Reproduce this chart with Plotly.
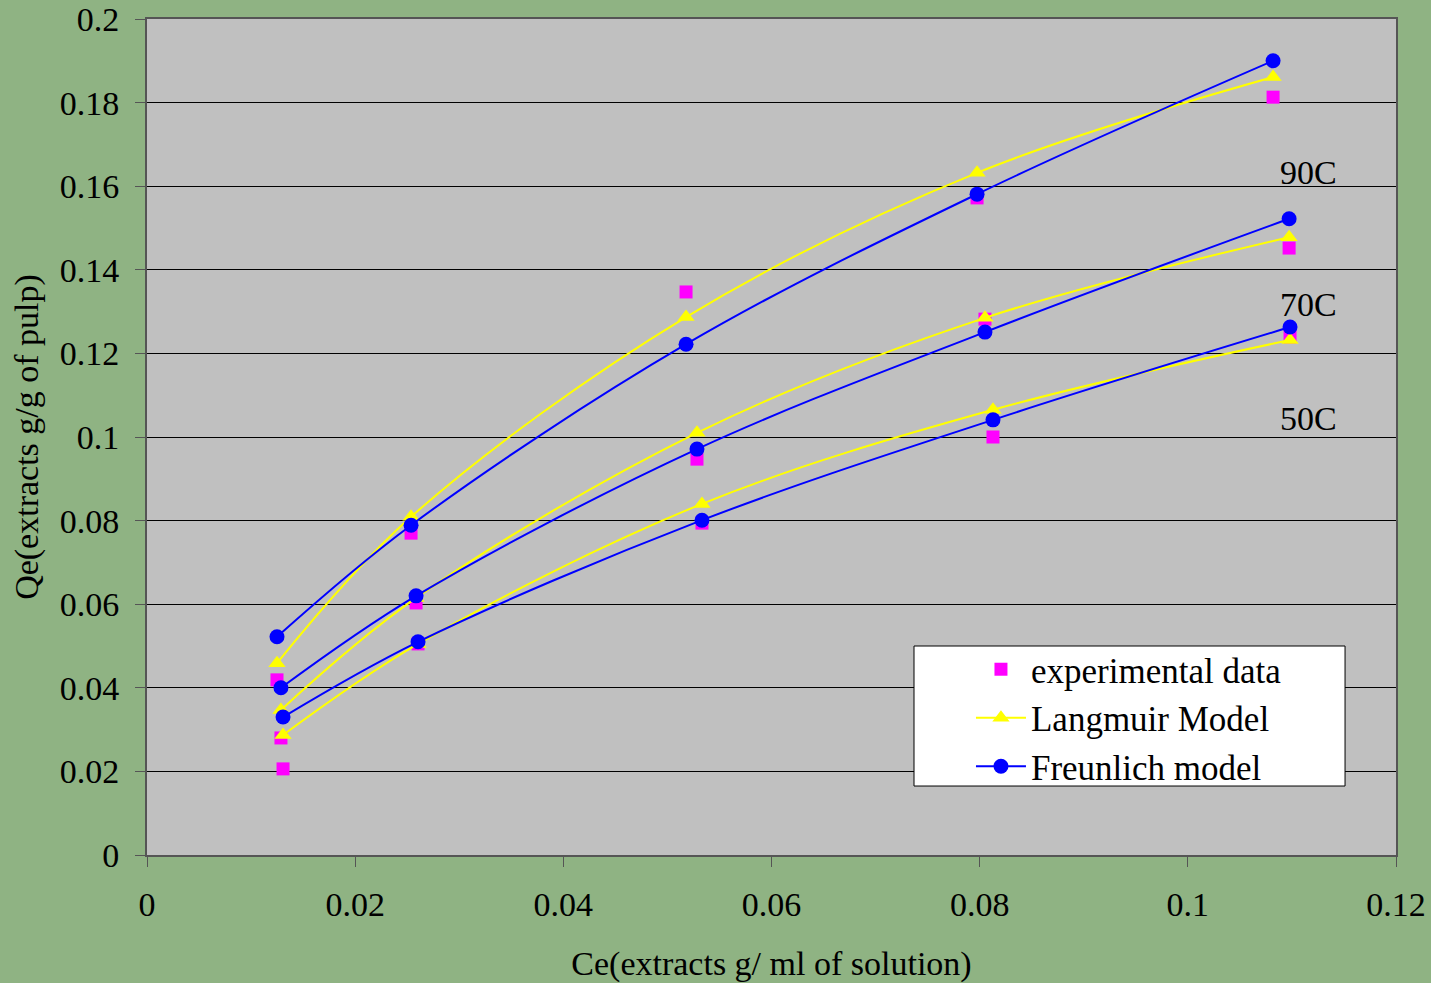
import plotly.graph_objects as go

# Data
x90 = [0.01249, 0.02537, 0.05179, 0.07975, 0.10819]
x70 = [0.01287, 0.02585, 0.05284, 0.08051, 0.10973]
x50 = [0.01307, 0.02604, 0.05332, 0.08128, 0.10982]

exp90 = [0.0419, 0.0770, 0.1347, 0.1572, 0.1813]
lang90 = [0.0459, 0.0809, 0.1287, 0.1632, 0.1861]
freu90 = [0.0522, 0.0789, 0.1222, 0.1581, 0.1900]

exp70 = [0.0280, 0.0603, 0.0947, 0.1282, 0.1452]
lang70 = [0.0347, 0.0615, 0.1010, 0.1285, 0.1478]
freu70 = [0.0400, 0.0620, 0.0971, 0.1251, 0.1522]

exp50 = [0.0206, 0.0505, 0.0794, 0.1000, 0.1239]
lang50 = [0.0287, 0.0505, 0.0840, 0.1065, 0.1232]
freu50 = [0.0330, 0.0510, 0.0801, 0.1041, 0.1263]

x_tickvals = [0, 0.02, 0.04, 0.06, 0.08, 0.1, 0.12]
x_ticktext = ["0", "0.02", "0.04", "0.06", "0.08", "0.1", "0.12"]
y_tickvals = [0, 0.02, 0.04, 0.06, 0.08, 0.1, 0.12, 0.14, 0.16, 0.18, 0.2]
y_ticktext = ["0", "0.02", "0.04", "0.06", "0.08", "0.1", "0.12", "0.14", "0.16", "0.18", "0.2"]

labels = ["90C", "70C", "50C"]
label_x = [0.1116, 0.1116, 0.1116]
label_y = [0.1632, 0.1316, 0.1045]

FONT = "Liberation Serif, Times New Roman, serif"
FS = 34
LFS = 35

fig = go.Figure()
sets = [(x90, exp90, lang90, freu90), (x70, exp70, lang70, freu70), (x50, exp50, lang50, freu50)]
for i, (xs, e, l, f) in enumerate(sets):
    fig.add_trace(go.Scatter(x=xs, y=e, mode="markers", name="experimental data",
                             legendgroup="exp", showlegend=(i == 0),
                             marker=dict(symbol="square", size=13, color="#FF00FF")))
for i, (xs, e, l, f) in enumerate(sets):
    fig.add_trace(go.Scatter(x=xs, y=l, mode="lines+markers", name="Langmuir Model",
                             legendgroup="lang", showlegend=(i == 0),
                             line=dict(color="#FFFF00", width=2, shape="spline", smoothing=1),
                             marker=dict(symbol="triangle-up", size=15, color="#FFFF00")))
for i, (xs, e, l, f) in enumerate(sets):
    fig.add_trace(go.Scatter(x=xs, y=f, mode="lines+markers", name="Freunlich model",
                             legendgroup="freu", showlegend=(i == 0),
                             line=dict(color="#0000FF", width=2, shape="spline", smoothing=1),
                             marker=dict(symbol="circle", size=15, color="#0000FF")))

for t, ax, ay in zip(labels, label_x, label_y):
    fig.add_annotation(x=ax, y=ay, text=t, showarrow=False, xanchor="center", yanchor="middle",
                       font=dict(family=FONT, size=FS, color="black"))

# legend frame
fig.add_shape(type="rect", xref="paper", yref="paper",
              x0=0.6141, x1=0.9592, y0=0.0825, y1=0.25,
              fillcolor="white", line=dict(color="black", width=1), layer="above")

fig.update_layout(
    width=1431, height=983,
    margin=dict(l=147, r=35, t=19, b=128),
    paper_bgcolor="#8FB383",
    plot_bgcolor="#C0C0C0",
    font=dict(family=FONT, size=FS, color="black"),
    legend=dict(x=0.6597, y=0.2572, xanchor="left", yanchor="top",
                bgcolor="rgba(0,0,0,0)", borderwidth=0,
                font=dict(family=FONT, size=LFS), tracegroupgap=0, itemwidth=50),
    xaxis=dict(range=[0, 0.12], tickvals=x_tickvals, ticktext=x_ticktext,
               showgrid=False, zeroline=False, automargin=False,
               showline=True, linecolor="#555555", linewidth=2, mirror=True,
               ticks="outside", ticklen=10, tickcolor="#555555", ticklabelstandoff=8,
               title=dict(text="Ce(extracts g/ ml of solution)", standoff=30,
                          font=dict(family=FONT, size=FS))),
    yaxis=dict(range=[0, 0.2], tickvals=y_tickvals, ticktext=y_ticktext,
               showgrid=True, gridcolor="black", gridwidth=1, automargin=False,
               zeroline=False, showline=True, linecolor="#555555", linewidth=2, mirror=True,
               ticks="outside", ticklen=10, tickcolor="#555555", ticklabelstandoff=9,
               title=dict(text="Qe(extracts g/g of pulp)", standoff=11,
                          font=dict(family=FONT, size=FS))),
)

fig.write_html("out.html")
